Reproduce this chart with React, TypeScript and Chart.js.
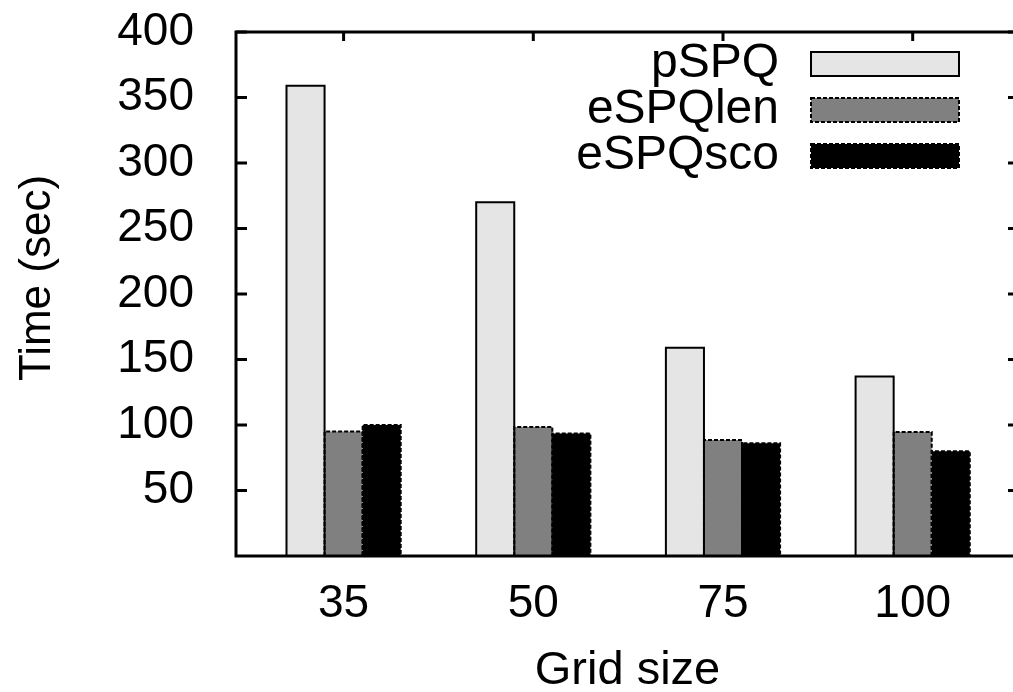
import React, { useEffect, useRef } from "react";
import { Chart, registerables } from "chart.js";

Chart.register(...registerables);

const CATEGORIES = ["35", "50", "75", "100"];
const SERIES_NAMES = ["pSPQ", "eSPQlen", "eSPQsco"];
const PSPQ = [359, 270, 159, 137];
const ESPQLEN = [95, 98.5, 88.5, 94.7];
const ESPQSCO = [100, 93.6, 86, 80];
const Y_TICKS = [50, 100, 150, 200, 250, 300, 350, 400];
const X_TITLE = "Grid size";
const Y_TITLE = "Time (sec)";

const FILLS = ["#e5e5e5", "#808080", "#000000"];
const DASHES: number[][] = [[], [4, 2], [4, 2]];
const FONT = '"Liberation Sans", Arial, Helvetica, sans-serif';

const framePlugin = {
  id: "gnuplotFrame",
  afterDatasetsDraw(chart: any) {
    const { ctx } = chart;
    chart.data.datasets.forEach((_ds: any, di: number) => {
      const meta = chart.getDatasetMeta(di);
      meta.data.forEach((el: any) => {
        const { x, y, base, width } = el.getProps(["x", "y", "base", "width"], true);
        const l = x - width / 2;
        const r = x + width / 2;
        ctx.save();
        ctx.lineWidth = 2;
        ctx.strokeStyle = "#000";
        ctx.setLineDash(DASHES[di]);
        ctx.beginPath();
        ctx.moveTo(l, base);
        ctx.lineTo(l, y);
        ctx.lineTo(r, y);
        ctx.lineTo(r, base);
        ctx.stroke();
        ctx.restore();
      });
    });
  },
  afterDraw(chart: any) {
    const { ctx, chartArea: a, scales } = chart;
    ctx.save();
    ctx.strokeStyle = "#000";
    ctx.lineWidth = 3;
    ctx.setLineDash([]);
    ctx.beginPath();
    ctx.rect(a.left, a.top, a.right - a.left, a.bottom - a.top);
    ctx.stroke();
    Y_TICKS.forEach((v) => {
      const py = scales.y.getPixelForValue(v);
      ctx.beginPath();
      ctx.moveTo(a.left, py);
      ctx.lineTo(a.left + 11, py);
      ctx.moveTo(a.right, py);
      ctx.lineTo(a.right - 11, py);
      ctx.stroke();
    });
    CATEGORIES.forEach((_c, i) => {
      const px = scales.x.getPixelForValue(i);
      ctx.beginPath();
      ctx.moveTo(px, a.top);
      ctx.lineTo(px, a.top + 9);
      ctx.stroke();
    });
    SERIES_NAMES.forEach((name, i) => {
      const top = 52 + i * 46;
      const sx = 811;
      const sw = 148;
      const sh = 24;
      ctx.fillStyle = chart.data.datasets[i].backgroundColor;
      ctx.fillRect(sx, top, sw, sh);
      ctx.lineWidth = 2;
      ctx.setLineDash(DASHES[i]);
      ctx.strokeStyle = "#000";
      ctx.strokeRect(sx, top, sw, sh);
      ctx.setLineDash([]);
      ctx.fillStyle = "#000";
      ctx.font = `48px ${FONT}`;
      ctx.textAlign = "right";
      ctx.textBaseline = "alphabetic";
      ctx.fillText(name, 779, top + 25);
    });
    ctx.fillStyle = "#000";
    ctx.font = `47px ${FONT}`;
    ctx.textAlign = "center";
    ctx.textBaseline = "alphabetic";
    ctx.fillText(X_TITLE, (a.left + a.right) / 2, 684);
    ctx.save();
    ctx.translate(50, 278);
    ctx.rotate(-Math.PI / 2);
    ctx.font = `44px ${FONT}`;
    ctx.fillText(Y_TITLE, 0, 0);
    ctx.restore();
    ctx.restore();
  },
};

export default function App() {
  const ref = useRef<HTMLCanvasElement | null>(null);
  useEffect(() => {
    if (!ref.current) return;
    const mk = (vals: number[]) => vals.map((v, i) => ({ x: i, y: v }));
    const chart = new Chart(ref.current, {
      type: "bar",
      data: {
        datasets: [
          { label: SERIES_NAMES[0], data: mk(PSPQ), backgroundColor: FILLS[0], borderWidth: 0 },
          { label: SERIES_NAMES[1], data: mk(ESPQLEN), backgroundColor: FILLS[1], borderWidth: 0 },
          { label: SERIES_NAMES[2], data: mk(ESPQSCO), backgroundColor: FILLS[2], borderWidth: 0 },
        ] as any,
      },
      options: {
        animation: false,
        responsive: false,
        maintainAspectRatio: false,
        devicePixelRatio: 1,
        layout: { padding: { top: 32, right: 11, left: 0, bottom: 0 } },
        datasets: { bar: { categoryPercentage: 0.602, barPercentage: 1 } },
        plugins: { legend: { display: false }, tooltip: { enabled: false }, title: { display: false } },
        scales: {
          x: {
            type: "linear",
            min: -0.5672,
            max: 3.5604,
            offset: false,
            grid: { display: false },
            border: { display: false },
            afterBuildTicks: (axis: any) => {
              axis.ticks = CATEGORIES.map((_c, i) => ({ value: i }));
            },
            afterFit: (scale: any) => {
              scale.height = 136;
              scale.paddingLeft = 0;
              scale.paddingRight = 0;
            },
            ticks: {
              color: "#000",
              font: { family: FONT, size: 46 },
              padding: 13,
              maxRotation: 0,
              autoSkip: false,
              callback: (v: any) => CATEGORIES[Number(v)] ?? "",
            },
          },
          y: {
            min: 0,
            max: 400,
            grid: { display: false },
            border: { display: false },
            afterFit: (scale: any) => {
              scale.width = 236;
              scale.paddingTop = 0;
              scale.paddingBottom = 0;
            },
            ticks: {
              stepSize: 50,
              color: "#000",
              font: { family: FONT, size: 46 },
              padding: 34,
              callback: (v: any) => (Number(v) === 0 ? "" : String(v)),
            },
          },
        },
      },
      plugins: [framePlugin],
    } as any);
    return () => chart.destroy();
  }, []);
  return (
    <div
      style={{
        position: "absolute",
        left: 0,
        top: 0,
        width: 1013,
        height: 692,
        overflow: "hidden",
        background: "#fff",
      }}
    >
      <canvas ref={ref} width={1030} height={692} style={{ display: "block" }} />
    </div>
  );
}
